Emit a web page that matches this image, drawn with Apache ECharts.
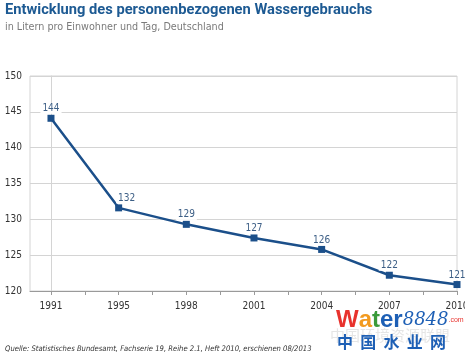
<!DOCTYPE html>
<html><head><meta charset="utf-8">
<script src="https://cdn.jsdelivr.net/npm/echarts@6/dist/echarts.min.js"></script>
<style>html,body{margin:0;padding:0;background:#fff}#c{width:465px;height:357px}</style>
</head><body><div id="c"></div>
<script>
var years = ['1991','1995','1998','2001','2004','2007','2010'];
var usage = [144.1, 131.6, 129.3, 127.4, 125.8, 122.2, 120.9];
var yTicks = [120, 125, 130, 135, 140, 145, 150];

var cond = "'DejaVu Sans Condensed','Liberation Sans Narrow','Noto Sans',sans-serif";
var chart = echarts.init(document.getElementById('c'), null, {renderer:'canvas'});
var xIdx = years.map(function(_, i){ return i; });
var halfTicks = [];
for (var i = 0; i <= (years.length - 1) * 2; i++) halfTicks.push(i / 2);

chart.setOption({
  animation: false,
  backgroundColor: '#fff',
  title: [
    {text: 'Entwicklung des personenbezogenen Wassergebrauchs', left: 5, top: 3, padding: 0,
     textStyle: {fontFamily: 'Roboto', fontWeight: 'bold', fontSize: 14.7, color: '#1d5a93'}},
    {text: 'in Litern pro Einwohner und Tag, Deutschland', left: 5, top: 22, padding: 0,
     textStyle: {fontFamily: cond, fontWeight: 'normal', fontSize: 10.7, color: '#7a7a7a'}},
    {text: 'Quelle: Statistisches Bundesamt, Fachserie 19, Reihe 2.1, Heft 2010, erschienen 08/2013', left: 5, top: 345, padding: 0,
     textStyle: {fontFamily: cond, fontStyle: 'italic', fontWeight: 'normal', fontSize: 7.6, color: '#333'}}
  ],
  grid: {left: 30, right: 8, top: 76, bottom: 66, outerBoundsMode: 'none', containLabel: false,
         show: true, borderColor: '#d4d4d4', borderWidth: 1},
  xAxis: {
    type: 'value', min: -0.31, max: years.length - 1,
    axisLine: {show: true, onZero: false, lineStyle: {color: '#9a9a9a', width: 1}},
    axisTick: {show: true, length: 4, lineStyle: {color: '#9a9a9a'}, customValues: halfTicks},
    axisLabel: {customValues: xIdx, margin: 10, fontFamily: cond, fontSize: 10, color: '#333',
      formatter: function(v){ return years[Math.round(v)]; }},
    splitLine: {show: false}
  },
  yAxis: {
    type: 'value', min: yTicks[0], max: yTicks[yTicks.length-1], interval: 5,
    axisLine: {show: true, lineStyle: {color: '#d4d4d4'}},
    axisTick: {show: false},
    axisLabel: {margin: 8, fontFamily: cond, fontSize: 10, color: '#333'},
    splitLine: {show: true, lineStyle: {color: '#d4d4d4', width: 1}}
  },
  series: [{
    type: 'line',
    data: usage.map(function(v, i){
      var d = {value: [xIdx[i], v]};
      if (i === 1) d.label = {offset: [8, 0]};
      return d;
    }),
    symbol: 'rect', symbolSize: 7,
    lineStyle: {color: '#1b4f8a', width: 2.5},
    itemStyle: {color: '#1b4f8a'},
    label: {show: true, position: 'top', distance: 1,
      formatter: function(p){ return Math.round(p.value[1]); },
      fontFamily: cond, fontSize: 10, color: '#3d5f86',
      backgroundColor: '#fff', padding: [0, 2, 0, 2]}
  }],
  graphic: [
    {type: 'text', left: 330, top: 328, z: 10,
     style: {text: '中国环境资源联盟', font: '15px "Noto Sans CJK SC"', fill: 'rgba(170,170,170,0.3)'}},
    {type: 'text', left: 336, top: 308, z: 11,
     style: {rich: {
       a: {fill: '#e8322d', font: 'bold 24px "Liberation Sans"'},
       b: {fill: '#f29a1f', font: 'bold 24px "Liberation Sans"'},
       c: {fill: '#3a9a3a', font: 'bold 24px "Liberation Sans"'},
       d: {fill: '#1d5fb5', font: 'bold 24px "Liberation Sans"'},
       e: {fill: '#1d5fb5', font: 'italic 18px "DejaVu Serif"'},
       f: {fill: '#e8322d', font: '7px "Liberation Sans"'}
     }, text: '{a|W}{b|a}{c|t}{d|er}{e|8848}{f|.com}'}},
    {type: 'text', left: 337, top: 334, z: 11,
     style: {text: '中  国  水  业  网', font: 'bold 16px "Noto Sans CJK SC"', fill: '#1d5fb5'}}
  ]
});
</script></body></html>
